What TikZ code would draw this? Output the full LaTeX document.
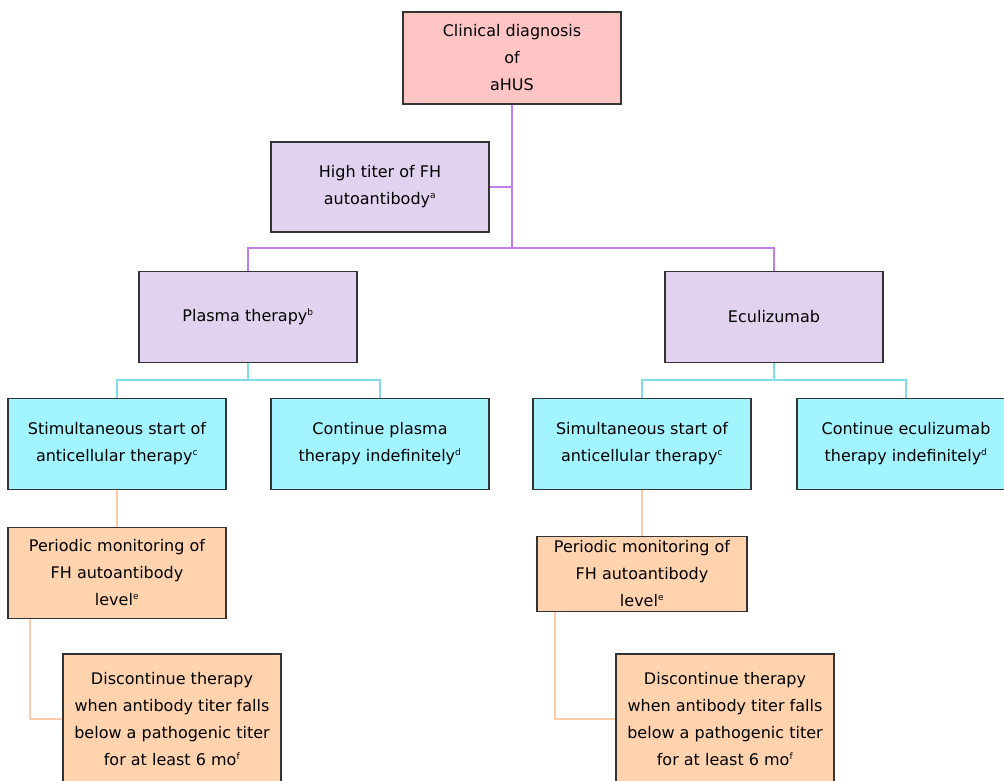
\documentclass[tikz,border=0pt]{standalone}
\usepackage{fontspec}
\setmainfont{DejaVu Sans}
\usepackage{xcolor}
\usepackage{tikz}
\usetikzlibrary{positioning}
\definecolor{pinkfill}{HTML}{FFC4C4}
\definecolor{lilacfill}{HTML}{E1D3EF}
\definecolor{cyanfill}{HTML}{A2F4FF}
\definecolor{peachfill}{HTML}{FFD3AE}
\definecolor{lilacline}{HTML}{C27FE8}
\definecolor{cyanline}{HTML}{7EDDEB}
\definecolor{peachline}{HTML}{FFCBA6}
\newcommand{\notemark}[1]{\textsuperscript{\fontsize{9}{9}\selectfont #1}}
\tikzstyle{box} = [rectangle, draw=black!80, line width=1.2pt, inner sep=0pt, minimum width=218pt, minimum height=91pt, align=center, font=\fontsize{16}{27}\selectfont]
\tikzstyle{diagbox} = [box, fill=pinkfill, minimum height=92pt]
\tikzstyle{treatbox} = [box, fill=lilacfill]
\tikzstyle{startbox} = [box, fill=cyanfill]
\tikzstyle{watchbox} = [box, fill=peachfill]
\tikzstyle{lilacwire} = [lilacline, line width=1.6pt]
\tikzstyle{cyanwire} = [cyanline, line width=1.1pt]
\tikzstyle{peachwire} = [peachline, line width=1.6pt]

\begin{document}
\begin{tikzpicture}[x=1pt, y=-1pt]
  \useasboundingbox (0,0) rectangle (1004,780);
  \clip (0,0) rectangle (1004,780);

  \node [diagbox] (diag) at (512,58) {Clinical diagnosis\\of\\aHUS};
  \node [treatbox, minimum height=90pt] (titer) at (380,187) {High titer of FH\\autoantibody\notemark{a}};
  \node [treatbox] (plasma) at (248,317) {Plasma therapy\notemark{b}};
  \node [treatbox] (eculi) at (774,317) {Eculizumab};

  \node [startbox] (stim) at (117,444) {Stimultaneous start of\\anticellular therapy\notemark{c}};
  \node [startbox] (contp) at (380,444) {Continue plasma\\therapy indefinitely\notemark{d}};
  \node [startbox] (simul) at (642,444) {Simultaneous start of\\anticellular therapy\notemark{c}};
  \node [startbox] (conte) at (906,444) {Continue eculizumab\\therapy indefinitely\notemark{d}};

  \node [watchbox] (monl) at (117,573) {Periodic monitoring of\\FH autoantibody\\level\notemark{e}};
  \node [watchbox, minimum width=210pt, minimum height=75pt] (monr) at (642,574) {Periodic monitoring of\\FH autoantibody\\level\notemark{e}};
  \node [watchbox, minimum height=130pt] (discl) at (172,719) {Discontinue therapy\\when antibody titer falls\\below a pathogenic titer\\for at least 6 mo\notemark{f}};
  \node [watchbox, minimum height=130pt] (discr) at (725,719) {Discontinue therapy\\when antibody titer falls\\below a pathogenic titer\\for at least 6 mo\notemark{f}};

  \coordinate (split) at (512,248);
  \coordinate (splitp) at (248,380);
  \coordinate (splite) at (774,380);
  \coordinate (bendl) at (30,719);
  \coordinate (bendr) at (555,719);

  \draw [lilacwire] (diag.south) -- (split);
  \draw [lilacwire] (split) -| (plasma.north);
  \draw [lilacwire] (split) -| (eculi.north);
  \draw [lilacline, line width=1.3pt] (titer.east) -- (titer.east -| diag.south);

  \draw [cyanwire] (plasma.south) -- (splitp);
  \draw [cyanwire] (splitp) -| (stim.north);
  \draw [cyanwire] (splitp) -| (contp.north);
  \draw [cyanwire] (eculi.south) -- (splite);
  \draw [cyanwire] (splite) -| (simul.north);
  \draw [cyanwire] (splite) -| (conte.north);

  \draw [peachwire] (stim.south) -- (monl.north);
  \draw [peachwire] (monl.south -| bendl) -- (bendl) -- (discl.west);
  \draw [peachwire] (simul.south) -- (monr.north);
  \draw [peachwire] (monr.south -| bendr) -- (bendr) -- (discr.west);
\end{tikzpicture}
\end{document}
